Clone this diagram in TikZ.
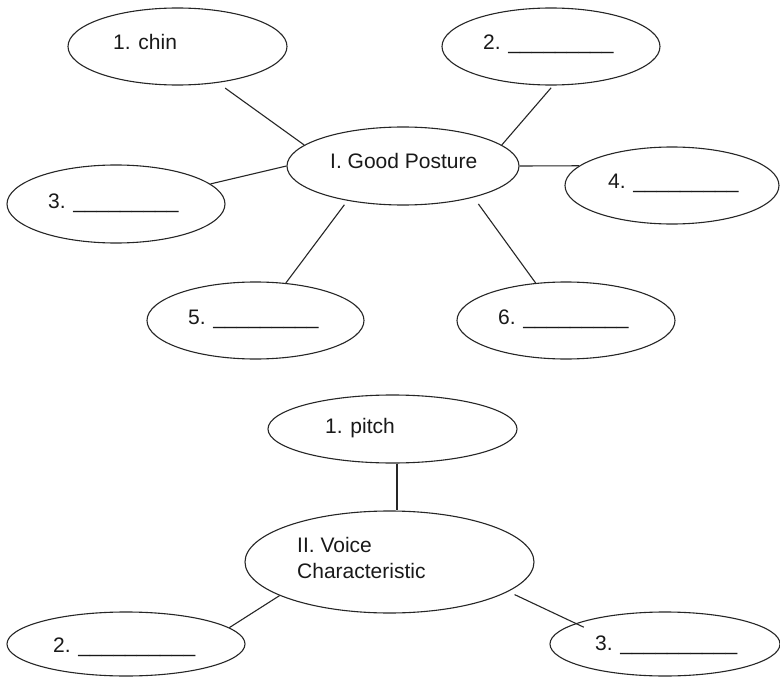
\documentclass[tikz,border=0pt]{standalone}
\usepackage{fontspec}
\setmainfont{Liberation Sans}
\usetikzlibrary{shapes.geometric,calc}
\begin{document}
\begin{tikzpicture}[x=1pt,y=-1pt,
  bub/.style={draw=black!85, line width=1.1pt, ellipse, inner sep=0pt},
  lbl/.style={anchor=base west, inner sep=0pt, text=black!90, font=\fontsize{21}{26}\selectfont},
  con/.style={draw=black!85, line width=1.1pt}]
\fill[white] (0,0) rectangle (780,677);
\useasboundingbox (0,0) rectangle (780,677);
% Part I
\node[bub, minimum width=219pt, minimum height=77pt] (A1) at (177.5,46.5) {};
\node[bub, minimum width=218pt, minimum height=77pt] (A2) at (551,46.5) {};
\node[bub, minimum width=232pt, minimum height=78pt] (C) at (403,166) {};
\node[bub, minimum width=218pt, minimum height=78pt] (A3) at (116,204) {};
\node[bub, minimum width=214pt, minimum height=77pt] (A4) at (672,185.5) {};
\node[bub, minimum width=217pt, minimum height=77pt] (A5) at (255.5,320.5) {};
\node[bub, minimum width=218pt, minimum height=77pt] (A6) at (566,320.5) {};
\node[lbl] (t1) at (113,50) {1. chin};
\node[lbl] (t2) at (483,50) {2. \_\_\_\_\_\_\_\_\_};
\node[lbl] (tc) at (330,168) {I. Good Posture};
\node[lbl] (t3) at (48,208) {3. \_\_\_\_\_\_\_\_\_};
\node[lbl] (t4) at (608,188) {4. \_\_\_\_\_\_\_\_\_};
\node[lbl] (t5) at (188,324) {5. \_\_\_\_\_\_\_\_\_};
\node[lbl] (t6) at (498,324) {6. \_\_\_\_\_\_\_\_\_};
\draw[con, shorten <=9pt] (A1.-42) -- (C.168);
\draw[con, shorten <=3pt] (A2.-87) -- (C.12);
\draw[con] (A3.12) -- (C.180);
\draw[con] (C.0) -- (A4.168);
\draw[con, shorten <=5pt] (C.212) -- (A5.51);
\draw[con, shorten <=8pt] (C.-24) -- (A6.129);
% Part II
\node[bub, minimum width=249pt, minimum height=68pt] (P1) at (392.5,429) {};
\node[bub, minimum width=289pt, minimum height=102pt] (V) at (389.5,562) {};
\node[bub, minimum width=238pt, minimum height=64pt] (B2) at (126,644) {};
\node[bub, minimum width=230pt, minimum height=64pt] (B3) at (665,644) {};
\node[lbl] (p1) at (325,433) {1. pitch};
\node[lbl] (v1) at (297,552) {II. Voice};
\node[lbl] (v2) at (297,578) {Characteristic};
\node[lbl] (b2) at (53,652) {2. \_\_\_\_\_\_\_\_\_\_};
\node[lbl] (b3) at (595,650) {3. \_\_\_\_\_\_\_\_\_\_};
\draw[con] ([xshift=4.5pt]P1.south) -- ([xshift=4.5pt]P1.south |- V.north);
\draw[con] (V.197) -- (B2.9);
\draw[con, shorten <=7pt, shorten >=-9pt] (V.-14) -- (B3.167);
\end{tikzpicture}
\end{document}
